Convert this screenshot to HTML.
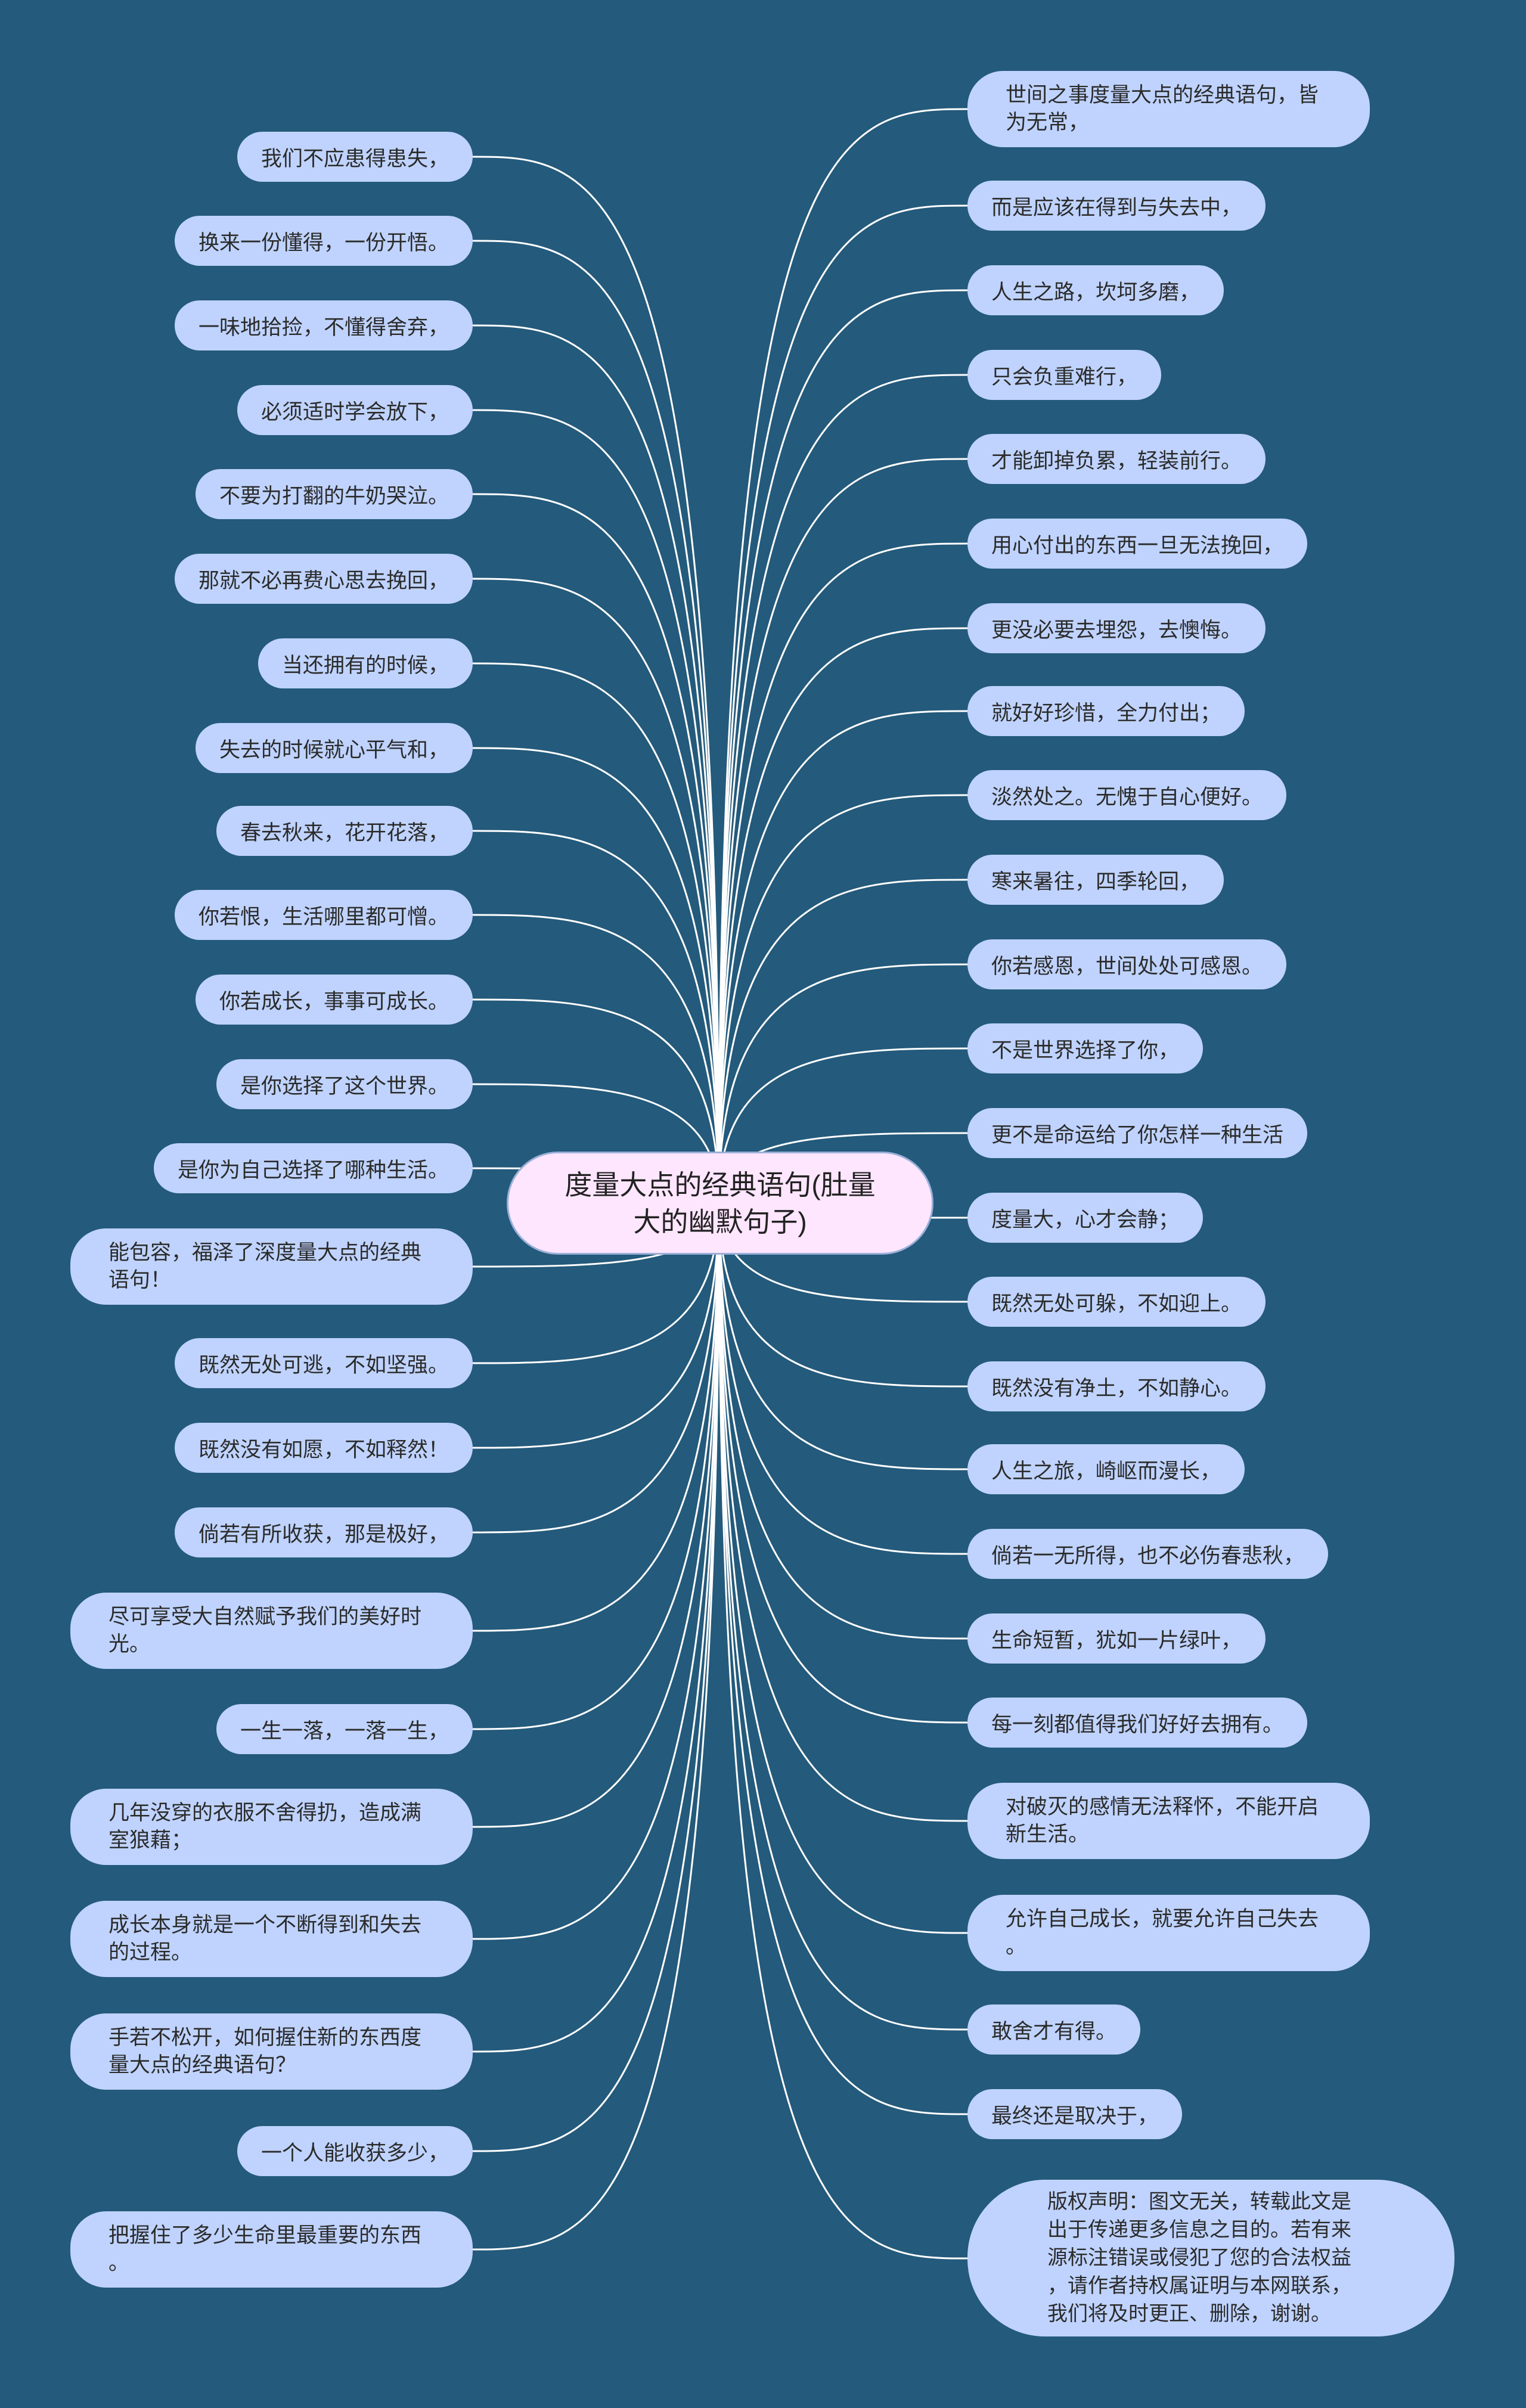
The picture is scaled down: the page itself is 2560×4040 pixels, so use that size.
<!DOCTYPE html>
<html><head><meta charset="utf-8">
<style>
html,body{margin:0;padding:0;}
body{width:2560px;height:4040px;background:#245a7b;position:relative;overflow:hidden;font-family:"Liberation Sans","Noto Sans CJK SC",sans-serif;}
svg{position:absolute;left:0;top:0;}
.n{position:absolute;background:#bfd3fe;color:#2b2b2b;font-size:35px;border-radius:42px;box-sizing:border-box;white-space:nowrap;display:flex;align-items:center;}
.s{height:84px;padding:0 40px;}
.m{width:675px;height:128px;padding:0 0 0 64px;line-height:46px;border-radius:60px;}
.c{position:absolute;left:850px;top:1932px;width:716px;height:173px;background:#ffe6ff;border:3px solid #9ab0d8;box-sizing:border-box;border-radius:86px;display:flex;align-items:center;justify-content:center;text-align:center;font-size:46px;line-height:62px;color:#222;}
</style></head><body>
<svg id="g" width="2560" height="4040"></svg>
<div class="c">度量大点的经典语句(肚量<br>大的幽默句子)</div>
<div id="root"></div>
<script>
var s=2.576,cx=1206,cy=2017;
var L=[
[102,"我们不应患得患失，"],[157,"换来一份懂得，一份开悟。"],[212,"一味地拾捡，不懂得舍弃，"],[267,"必须适时学会放下，"],[322,"不要为打翻的牛奶哭泣。"],[377,"那就不必再费心思去挽回，"],[432,"当还拥有的时候，"],[487,"失去的时候就心平气和，"],[541,"春去秋来，花开花落，"],[596,"你若恨，生活哪里都可憎。"],[651,"你若成长，事事可成长。"],[706,"是你选择了这个世界。"],[761,"是你为自己选择了哪种生活。"],[825,"能包容，福泽了深度量大点的经典<br>语句！",1],[888,"既然无处可逃，不如坚强。"],[943,"既然没有如愿，不如释然！"],[998,"倘若有所收获，那是极好，"],[1062,"尽可享受大自然赋予我们的美好时<br>光。",1],[1126,"一生一落，一落一生，"],[1190,"几年没穿的衣服不舍得扔，造成满<br>室狼藉；",1],[1263,"成长本身就是一个不断得到和失去<br>的过程。",1],[1336,"手若不松开，如何握住新的东西度<br>量大点的经典语句？",1],[1401,"一个人能收获多少，"],[1465,"把握住了多少生命里最重要的东西<br>。",1]];
var R=[
[71,"世间之事度量大点的经典语句，皆<br>为无常，",1],[134,"而是应该在得到与失去中，"],[189,"人生之路，坎坷多磨，"],[244,"只会负重难行，"],[299,"才能卸掉负累，轻装前行。"],[354,"用心付出的东西一旦无法挽回，"],[409,"更没必要去埋怨，去懊悔。"],[463,"就好好珍惜，全力付出；"],[518,"淡然处之。无愧于自心便好。"],[573,"寒来暑往，四季轮回，"],[628,"你若感恩，世间处处可感恩。"],[683,"不是世界选择了你，"],[738,"更不是命运给了你怎样一种生活"],[793,"度量大，心才会静；"],[848,"既然无处可躲，不如迎上。"],[903,"既然没有净土，不如静心。"],[957,"人生之旅，崎岖而漫长，"],[1012,"倘若一无所得，也不必伤春悲秋，"],[1067,"生命短暂，犹如一片绿叶，"],[1122,"每一刻都值得我们好好去拥有。"],[1186,"对破灭的感情无法释怀，不能开启<br>新生活。",1],[1259,"允许自己成长，就要允许自己失去<br>。",1],[1322,"敢舍才有得。"],[1377,"最终还是取决于，"]];
var root=document.getElementById('root'),g=document.getElementById('g'),p='';
function path(x,y){p+='<path d="M'+cx+' '+cy+' C'+cx+' '+y+' '+(cx+(x-cx)*0.5)+' '+y+' '+x+' '+y+'" fill="none" stroke="#fff" stroke-width="3"/>';}
L.forEach(function(a){var y=Math.round(a[0]*s),d=document.createElement('div');
 if(a[2]){d.className='n m';d.style.left='118px';d.style.top=(y-64)+'px';}
 else{d.className='n s';d.style.right=(2560-793)+'px';d.style.top=(y-42)+'px';}
 d.innerHTML=a[1];root.appendChild(d);path(793,y);});
R.forEach(function(a){var y=Math.round(a[0]*s),d=document.createElement('div');
 if(a[2]){d.className='n m';d.style.top=(y-64)+'px';}
 else{d.className='n s';d.style.top=(y-42)+'px';}
 d.style.left='1623px';d.innerHTML=a[1];root.appendChild(d);path(1623,y);});
var cy2=Math.round(1471*s);path(1623,cy2);
var d=document.createElement('div');d.className='n';
d.style.cssText='left:1623px;top:'+(cy2-132)+'px;width:817px;height:263px;border-radius:130px;padding-left:134px;text-align:left;line-height:47px;font-size:34px;';
d.innerHTML='<div>版权声明：图文无关，转载此文是<br>出于传递更多信息之目的。若有来<br>源标注错误或侵犯了您的合法权益<br>，请作者持权属证明与本网联系，<br>我们将及时更正、删除，谢谢。</div>';
root.appendChild(d);
g.innerHTML=p;
</script>
</body></html>
